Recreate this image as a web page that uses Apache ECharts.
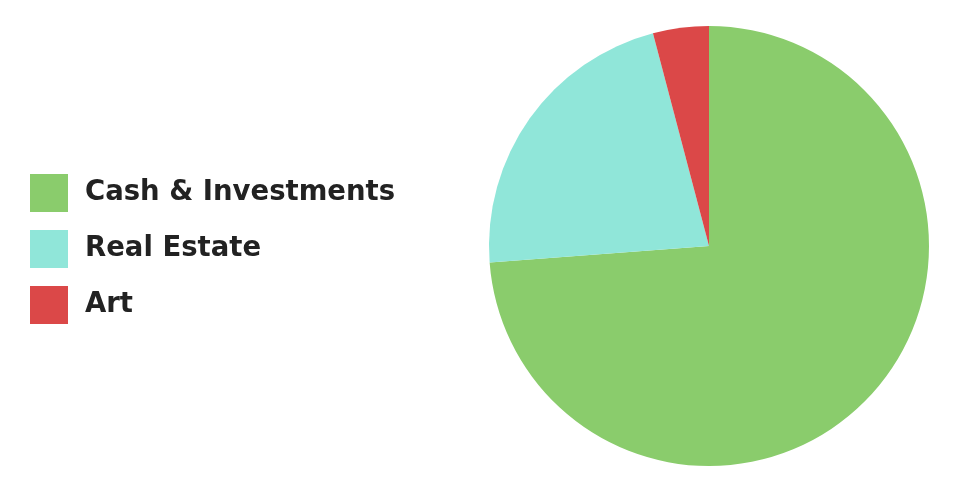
<!DOCTYPE html>
<html><head><meta charset="utf-8">
<script src="https://cdn.jsdelivr.net/npm/echarts@6/dist/echarts.min.js"></script>
<style>html,body{margin:0;padding:0;background:#fff}#c{width:960px;height:498px}</style>
</head><body><div id="c"></div>
<script>
const categories = ['Cash & Investments', 'Real Estate', 'Art'];
const values = [73.8, 22.1, 4.1];
const colors = ['#8ACC6C', '#90E6D9', '#DB4848'];
const chart = echarts.init(document.getElementById('c'), null, {renderer: 'canvas'});
chart.setOption({
  animation: false,
  legend: {
    orient: 'vertical', left: 25, top: 169,
    itemWidth: 38, itemHeight: 38, itemGap: 18,
    icon: 'rect',
    data: categories,
    textStyle: {fontFamily: 'DejaVu Sans', fontWeight: 'bold', fontSize: 27.5, color: '#222', padding: [0, 0, 0, 12]}
  },
  series: [{
    type: 'pie',
    center: [709, 246], radius: 220,
    startAngle: 90, clockwise: true,
    label: {show: false}, labelLine: {show: false},
    emphasis: {disabled: true},
    itemStyle: {borderWidth: 0},
    data: categories.map((n, i) => ({name: n, value: values[i], itemStyle: {color: colors[i]}}))
  }]
});
</script></body></html>
